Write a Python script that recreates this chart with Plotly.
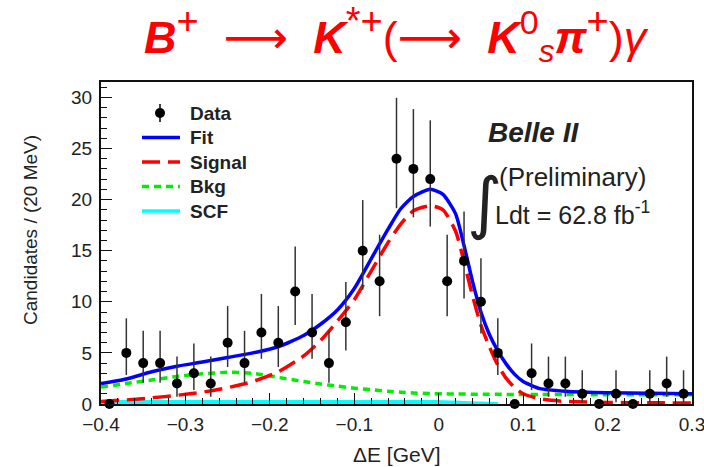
import plotly.graph_objects as go

# ---------------- data ----------------
bin_centers = [-0.39, -0.37, -0.35, -0.33, -0.31, -0.29, -0.27, -0.25, -0.23, -0.21,
               -0.19, -0.17, -0.15, -0.13, -0.11, -0.09, -0.07, -0.05, -0.03, -0.01,
               0.01, 0.03, 0.05, 0.07, 0.09, 0.11, 0.13, 0.15, 0.17, 0.19,
               0.21, 0.23, 0.25, 0.27, 0.29]
counts = [0, 5, 4, 4, 2, 3, 2, 6, 4, 7,
          6, 11, 7, 4, 8, 15, 12, 24, 23, 22,
          12, 14, 10, 5, 0, 3, 2, 2, 1, 0,
          1, 0, 1, 2, 1]
err_hi = [0, 3.38, 3.16, 3.16, 2.64, 2.92, 2.64, 3.58, 3.16, 3.77,
          3.58, 4.41, 3.77, 3.16, 3.94, 4.95, 4.56, 5.95, 5.85, 5.75,
          4.56, 4.82, 4.26, 3.38, 0, 2.92, 2.64, 2.64, 2.30, 0,
          2.30, 0, 2.30, 2.64, 2.30]
err_lo = [0, 2.16, 1.91, 1.91, 1.29, 1.63, 1.29, 2.38, 1.91, 2.58,
          2.38, 3.27, 2.58, 1.91, 2.77, 3.82, 3.41, 4.85, 4.74, 4.64,
          3.41, 3.69, 3.11, 2.16, 0, 1.63, 1.29, 1.29, 0.83, 0,
          0.83, 0, 0.83, 1.29, 0.83]

curve_x = [-0.40, -0.37, -0.34, -0.31, -0.28, -0.25, -0.22, -0.19, -0.16, -0.14,
           -0.12, -0.10, -0.08, -0.06, -0.045, -0.03, -0.01, 0.005, 0.02, 0.03,
           0.04, 0.05, 0.06, 0.07, 0.08, 0.09, 0.10, 0.12, 0.15, 0.20,
           0.25, 0.30]
fit_y = [2.0, 2.45, 3.15, 3.7, 4.1, 4.55, 5.0, 5.6, 6.7, 7.8,
         9.2, 11.3, 14.2, 17.1, 19.1, 20.3, 21.0, 20.5, 18.6, 15.5,
         12.0, 9.0, 6.8, 5.2, 3.9, 2.9, 2.2, 1.5, 1.25, 1.1,
         1.05, 1.0]
sig_y = [0.25, 0.4, 0.6, 0.85, 1.15, 1.6, 2.2, 3.15, 4.7, 6.2,
         8.1, 10.2, 13.0, 15.8, 17.6, 18.9, 19.4, 19.0, 16.9, 13.9,
         10.6, 7.7, 5.6, 3.8, 2.5, 1.6, 1.0, 0.5, 0.25, 0.15,
         0.12, 0.1]
bkg_y = [1.65, 2.0, 2.35, 2.7, 2.95, 3.1, 3.0, 2.6, 2.2, 1.95,
         1.75, 1.55, 1.4, 1.25, 1.15, 1.08, 1.02, 1.0, 0.98, 0.97,
         0.96, 0.95, 0.95, 0.95, 0.94, 0.94, 0.93, 0.93, 0.92, 0.91,
         0.9, 0.9]
# SCF component: visible only up to ~0.07, then hidden under the axis
scf_y = [0.2, 0.2, 0.2, 0.2, 0.2, 0.2, 0.2, 0.2, 0.2, 0.2,
         0.2, 0.2, 0.2, 0.2, 0.2, 0.2, 0.2, 0.18, 0.15, 0.1,
         0.07, 0.04, 0.02, 0.0, None, None, None, None, None, None,
         None, None]

x_tickvals = [-0.4, -0.3, -0.2, -0.1, 0, 0.1, 0.2, 0.3]
x_ticktext = ["\u22120.4", "\u22120.3", "\u22120.2", "\u22120.1", "0", "0.1", "0.2", "0.3"]
y_tickvals = [0, 5, 10, 15, 20, 25, 30]

legend_names = ["Data", "Fit", "Signal", "Bkg", "SCF"]

# ---------------- layout geometry ----------------
W, H = 704, 467
L, R, T, B = 101, 692, 82, 404
FONT = "Liberation Sans"
TXT = "#222222"


def px(xp):
    return (xp - L) / (R - L)


def py(yp):
    return (B - yp) / (B - T)


fig = go.Figure()

curve_styles = [
    (scf_y, "#00ffff", "solid", 4),
    (bkg_y, "#00ee00", "7px,5px", 3.5),
    (sig_y, "#ff0000", "18px,8px", 3.5),
    (fit_y, "#0000ff", "solid", 3.5),
]
for yv, col, dash, w in curve_styles:
    fig.add_trace(go.Scatter(
        x=curve_x, y=yv, mode="lines", connectgaps=False,
        line=dict(color=col, width=w, dash=dash, shape="spline", smoothing=0.6),
        showlegend=False, hoverinfo="skip"))

fig.add_trace(go.Scatter(
    x=bin_centers, y=counts, mode="markers",
    marker=dict(color="black", size=10),
    error_y=dict(type="data", symmetric=False, array=err_hi, arrayminus=err_lo,
                 thickness=1.5, width=0, color="#333333"),
    cliponaxis=False, showlegend=False))

# ---------------- manual legend ----------------
leg_rows = [113, 137.5, 162, 186.5, 211]
shapes = []
annotations = []
sym_x0, sym_x1, text_x = 142, 180, 188
shapes.append(dict(type="line", xref="paper", yref="paper",
                   x0=px(160), x1=px(160), y0=py(leg_rows[0] - 9), y1=py(leg_rows[0] + 9),
                   line=dict(color="black", width=1.5)))
shapes.append(dict(type="circle", xref="paper", yref="paper",
                   x0=px(155), x1=px(165), y0=py(leg_rows[0] + 5), y1=py(leg_rows[0] - 5),
                   fillcolor="black", line=dict(color="black", width=0)))
leg_lines = [("#0000ff", "solid"), ("#ff0000", "18px,8px"), ("#00ee00", "7px,5px"), ("#00ffff", "solid")]
for (col, dash), yr in zip(leg_lines, leg_rows[1:]):
    shapes.append(dict(type="line", xref="paper", yref="paper",
                       x0=px(sym_x0), x1=px(sym_x1), y0=py(yr), y1=py(yr),
                       line=dict(color=col, width=3.5, dash=dash)))
for name, yr in zip(legend_names, leg_rows):
    annotations.append(dict(text="<b>%s</b>" % name, xref="paper", yref="paper",
                            x=px(text_x), y=py(yr), xanchor="left", yanchor="middle",
                            showarrow=False, font=dict(family=FONT, size=19, color=TXT)))

# ---------------- texts ----------------
NB = "\u00a0"
ARR = "<span style='font-family:DejaVu Sans'>\u27f6</span>"


def big_sup(s, size=38):
    return "<sup><span style='font-size:%dpx'>%s</span></sup>" % (size, s)


title_html = ("<b><i>B</i></b>" + big_sup("+") + NB + NB + ARR + NB + NB +
              "<b><i>K</i></b>" + big_sup("*+") + "(" + ARR + NB + NB +
              "<b><i>K</i></b>" + big_sup("0", 34) + "<sub><i>s</i></sub>" +
              "<b><i>\u03c0</i></b>" + big_sup("+") + ")<i>\u03b3</i>")
annotations.append(dict(
    text=title_html, xref="paper", yref="paper", x=px(396), y=py(35),
    xanchor="center", yanchor="middle",
    showarrow=False, font=dict(family=FONT, size=45, color="#ff0000")))
annotations.append(dict(text="<b><i>Belle II</i></b>", xref="paper", yref="paper",
                        x=px(486), y=py(132), xanchor="left", yanchor="middle",
                        showarrow=False, font=dict(family=FONT, size=28, color=TXT)))
annotations.append(dict(text="(Preliminary)", xref="paper", yref="paper",
                        x=px(497), y=py(177), xanchor="left", yanchor="middle",
                        showarrow=False, font=dict(family=FONT, size=26, color=TXT)))
annotations.append(dict(text="\u222b", xref="paper", yref="paper",
                        x=px(485), y=py(202), xanchor="center", yanchor="middle",
                        showarrow=False, font=dict(family="DejaVu Sans", size=68, color=TXT)))
annotations.append(dict(text="Ldt = 62.8 fb<sup>-1</sup>", xref="paper", yref="paper",
                        x=px(493), y=py(213), xanchor="left", yanchor="middle",
                        showarrow=False, font=dict(family=FONT, size=25, color=TXT)))
annotations.append(dict(text="\u0394E [GeV]", xref="paper", yref="paper",
                        x=px(397), y=py(455), xanchor="center", yanchor="middle",
                        showarrow=False, font=dict(family=FONT, size=21, color=TXT)))
annotations.append(dict(text="Candidates / (20 MeV)", xref="paper", yref="paper",
                        x=px(30), y=py(230), xanchor="center", yanchor="middle", textangle=-90,
                        showarrow=False, font=dict(family=FONT, size=19, color=TXT)))

fig.update_layout(
    width=W, height=H,
    margin=dict(l=L, r=W - R, t=T, b=H - B, pad=0, autoexpand=False),
    paper_bgcolor="white", plot_bgcolor="white",
    shapes=shapes, annotations=annotations,
    showlegend=False,
)
axis_common = dict(
    ticks="inside", ticklen=11, tickwidth=1.2, tickcolor="#111",
    showline=True, linecolor="#111", linewidth=2, mirror=True,
    showgrid=False, zeroline=False, automargin=False, ticklabeloverflow="allow",
    tickfont=dict(family=FONT, size=19, color=TXT))
fig.update_xaxes(range=[-0.4, 0.3], tickvals=x_tickvals, ticktext=x_ticktext, ticklabelstandoff=2,
                 minor=dict(ticks="inside", dtick=0.02, tick0=-0.4, ticklen=6, tickwidth=1.2, tickcolor="#111"),
                 **axis_common)
fig.update_yaxes(range=[0, 31.5], tickvals=y_tickvals, ticklabelstandoff=3,
                 minor=dict(ticks="inside", dtick=1, tick0=0, ticklen=6, tickwidth=1.2, tickcolor="#111"),
                 **axis_common)

fig.write_html("out.html")
